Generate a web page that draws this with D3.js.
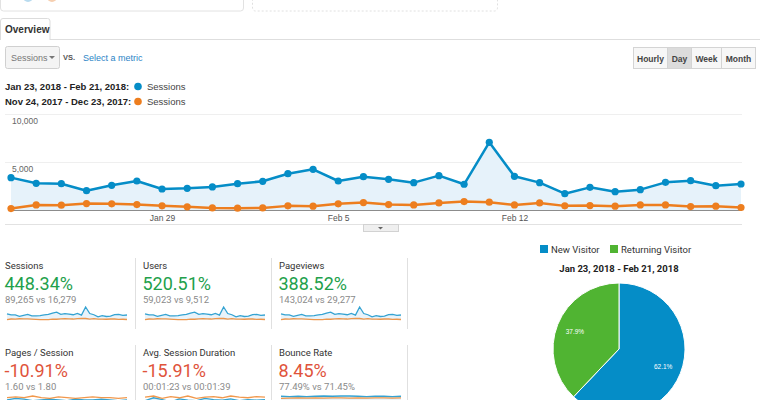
<!DOCTYPE html>
<html>
<head>
<meta charset="utf-8">
<script src="https://cdn.jsdelivr.net/npm/d3@7"></script>
<style>
  html, body { margin: 0; padding: 0; background: #fff; }
  svg { display: block; font-family: "Liberation Sans", Arial, sans-serif; }
  .metric { font-family: Roboto, "Liberation Sans", sans-serif; }
</style>
</head>
<body>
<svg id="chart" width="760" height="400"></svg>
<script>
// sessions per day, current period (Jan 23 - Feb 21, 2018) and previous period
var sessionsCur = [3370, 2780, 2740, 2010, 2570, 3020, 2190, 2260, 2400, 2740,
  2990, 3780, 4240, 3020, 3470, 3200, 2850, 3580, 2680, 7050,
  3510, 2850, 1700, 2360, 1910, 2120, 2880, 3050, 2530, 2710];
var sessionsPrev = [150, 530, 500, 670, 640, 570, 430, 330, 220, 190,
  220, 430, 400, 640, 770, 570, 530, 740, 880, 810,
  530, 740, 430, 460, 400, 530, 530, 360, 400, 260];
var yTicks = [5000, 10000];
var xTickDates = [new Date(2018, 0, 29), new Date(2018, 1, 5), new Date(2018, 1, 12)];

var legendRows = ['Jan 23, 2018 - Feb 21, 2018:', 'Nov 24, 2017 - Dec 23, 2017:'];
var granularity = ['Hourly', 'Day', 'Week', 'Month'];

var metricNames = ['Sessions', 'Users', 'Pageviews', 'Pages / Session', 'Avg. Session Duration', 'Bounce Rate'];
var metricChange = ['448.34%', '520.51%', '388.52%', '-10.91%', '-15.91%', '8.45%'];
var metricCompare = ['89,265 vs 16,279', '59,023 vs 9,512', '143,024 vs 29,277',
  '1.60 vs 1.80', '00:01:23 vs 00:01:39', '77.49% vs 71.45%'];
var metricGood = [true, true, true, false, false, false];

// small sparkline series for the second row of metrics
var pagesCur = [1.5, 1.7, 1.6, 1.4, 1.5, 1.6, 1.5, 1.4, 1.6, 1.5, 1.5, 1.6, 1.5, 1.4, 1.5];
var pagesPrev = [1.8, 1.9, 1.8, 2.0, 1.8, 1.7, 1.9, 1.8, 1.7, 1.8, 1.9, 1.8, 1.8, 1.7, 1.8];
var durCur = [70, 95, 80, 60, 85, 75, 70, 90, 80, 75, 85, 70, 80, 75, 80];
var durPrev = [100, 110, 90, 105, 95, 110, 90, 100, 105, 95, 110, 100, 95, 105, 100];
var bounceCur = [78, 77, 78, 77, 78, 79, 78, 79, 79, 78, 77, 78, 78, 77, 78];
var bouncePrev = [70, 71, 72, 71, 72, 71, 72, 72, 71, 72, 71, 72, 72, 71, 72];

var visitorTypes = ['New Visitor', 'Returning Visitor'];
var visitorShare = [62.1, 37.9];

var BLUE = '#058dc7';
var ORANGE = '#ed7e1f';
var GREEN = '#50b432';

var svg = d3.select('#chart');

// --- cut-off cards at the very top
svg.append('rect').attr('x', 0.5).attr('y', -12).attr('width', 243).attr('height', 23)
    .attr('rx', 3).attr('fill', '#fff').attr('stroke', '#e2e2e2');
svg.append('circle').attr('cx', 28).attr('cy', -3).attr('r', 5).attr('fill', '#b8dbef');
svg.append('circle').attr('cx', 52).attr('cy', -3).attr('r', 5).attr('fill', '#f6cfb0');
svg.append('rect').attr('x', 252.5).attr('y', -12).attr('width', 245).attr('height', 23)
    .attr('rx', 3).attr('fill', '#fff').attr('stroke', '#e0e0e0').attr('stroke-dasharray', '2,2');

// --- tab
svg.append('line').attr('x1', 0).attr('x2', 760).attr('y1', 39.5).attr('y2', 39.5)
    .attr('stroke', '#dedede');
svg.append('path').attr('d', 'M0.5,40 V21 Q0.5,18.5 3,18.5 H47.5 Q50,18.5 50,21 V40')
    .attr('fill', '#fff').attr('stroke', '#dcdcdc');
svg.append('text').attr('x', 5).attr('y', 33).text('Overview')
    .attr('font-size', 10).attr('font-weight', 'bold').attr('fill', '#333');

// --- metric selector
svg.append('rect').attr('x', 5.5).attr('y', 46.5).attr('width', 54).attr('height', 22)
    .attr('rx', 2).attr('fill', '#f4f4f4').attr('stroke', '#d0d0d0');
svg.append('text').attr('x', 11).attr('y', 61).text('Sessions')
    .attr('font-size', 9).attr('fill', '#777');
svg.append('path').attr('d', 'M49,56 h6 l-3,3 z').attr('fill', '#777');
svg.append('text').attr('x', 63).attr('y', 60).text('VS.')
    .attr('font-size', 7.5).attr('font-weight', 'bold').attr('fill', '#555');
svg.append('text').attr('x', 83).attr('y', 61).text('Select a metric')
    .attr('font-size', 9).attr('fill', '#2b84c6');

// --- granularity buttons
var btnX = d3.scaleOrdinal().domain(granularity).range([633, 667, 691, 721]);
var btnW = d3.scaleOrdinal().domain(granularity).range([34, 24, 30, 34]);
var btns = svg.append('g').selectAll('g').data(granularity).join('g')
    .attr('transform', function (d) { return 'translate(' + btnX(d) + ',47)'; });
btns.append('rect').attr('x', 0.5).attr('y', 0.5)
    .attr('width', function (d) { return btnW(d); }).attr('height', 21)
    .attr('fill', function (d) { return d === 'Day' ? '#dcdcdc' : '#f7f7f7'; })
    .attr('stroke', '#d4d4d4');
btns.append('text').attr('x', function (d) { return btnW(d) / 2 + 0.5; }).attr('y', 14.5)
    .attr('text-anchor', 'middle').attr('font-size', 8.5).attr('font-weight', 'bold')
    .attr('fill', '#444').text(function (d) { return d; });

// --- legend
var lg = svg.append('g').selectAll('g').data(legendRows).join('g')
    .attr('transform', function (d, i) { return 'translate(0,' + (90 + i * 15) + ')'; });
lg.append('text').attr('x', 5).attr('y', 0).text(function (d) { return d; })
    .attr('font-size', 9.5).attr('font-weight', 'bold').attr('fill', '#222');
lg.append('circle').attr('cx', 138).attr('cy', -3.5).attr('r', 3.8)
    .attr('fill', function (d, i) { return i === 0 ? BLUE : ORANGE; });
lg.append('text').attr('x', 147).attr('y', 0).text('Sessions')
    .attr('font-size', 9.5).attr('fill', '#444');

// --- main line chart
var days = d3.timeDay.range(new Date(2018, 0, 23), new Date(2018, 1, 22));
var x = d3.scaleTime().domain([days[0], days[days.length - 1]]).range([11, 741]);
var y = d3.scaleLinear().domain([0, 10000]).range([210, 114]);

var main = svg.append('g');
main.selectAll('line.grid').data(yTicks).join('line').attr('class', 'grid')
    .attr('x1', 5).attr('x2', 742)
    .attr('y1', function (d) { return y(d) + 0.5; }).attr('y2', function (d) { return y(d) + 0.5; })
    .attr('stroke', '#efefef');
main.selectAll('text.ylab').data(yTicks).join('text').attr('class', 'ylab')
    .attr('x', 12).attr('y', function (d) { return y(d) + 9.5; })
    .attr('font-size', 8.5).attr('fill', '#666').text(d3.format(','));

var area = d3.area().x(function (d, i) { return x(days[i]); }).y0(y(0))
    .y1(function (d) { return y(d); });
var line = d3.line().x(function (d, i) { return x(days[i]); }).y(function (d) { return y(d); });

main.append('path').datum(sessionsCur).attr('d', area).attr('fill', '#e6f2fa');
main.append('line').attr('x1', 11).attr('x2', 742).attr('y1', 210.5).attr('y2', 210.5)
    .attr('stroke', '#8c8c8c');

[[sessionsPrev, ORANGE], [sessionsCur, BLUE]].forEach(function (s) {
  main.append('path').datum(s[0]).attr('d', line).attr('fill', 'none')
      .attr('stroke', s[1]).attr('stroke-width', 2.5).attr('stroke-linejoin', 'round');
  main.append('g').selectAll('circle').data(s[0]).join('circle')
      .attr('cx', function (d, i) { return x(days[i]); })
      .attr('cy', function (d) { return y(d); })
      .attr('r', 3.6).attr('fill', s[1]);
});

var xAxis = d3.axisBottom(x).tickValues(xTickDates).tickFormat(d3.timeFormat('%b %-d')).tickSize(0);
var xg = main.append('g').attr('transform', 'translate(0,212)').call(xAxis);
xg.select('.domain').remove();
xg.selectAll('text').attr('font-size', 8.5).attr('fill', '#555')
    .attr('font-family', '"Liberation Sans", Arial, sans-serif');

main.append('line').attr('x1', 5).attr('x2', 742).attr('y1', 224.5).attr('y2', 224.5)
    .attr('stroke', '#e2e2e2');
main.append('rect').attr('x', 363.5).attr('y', 224.5).attr('width', 35).attr('height', 7)
    .attr('fill', '#efefef').attr('stroke', '#d2d2d2');
main.append('path').attr('d', 'M378,227 h5 l-2.5,2.5 z').attr('fill', '#666');

// --- metric cards
var colX = [5, 143, 279];
var rowY = [265, 352];
var sparkData = [
  [sessionsCur, sessionsPrev], [sessionsCur, sessionsPrev], [sessionsCur, sessionsPrev],
  [pagesCur, pagesPrev], [durCur, durPrev], [bounceCur, bouncePrev]
];

[135, 271, 407].forEach(function (sx) {
  rowY.forEach(function (ry) {
    svg.append('line').attr('x1', sx + 0.5).attr('x2', sx + 0.5)
        .attr('y1', ry - 7).attr('y2', ry + 64).attr('stroke', '#e0e0e0');
  });
});

metricNames.forEach(function (name, i) {
  var cx = colX[i % 3];
  var cy = rowY[Math.floor(i / 3)];
  var g = svg.append('g').attr('class', 'metric');
  g.append('text').attr('x', cx).attr('y', cy + 3.5).text(name)
      .attr('font-size', 9.5).attr('fill', '#333');
  g.append('text').attr('x', cx - 0.5).attr('y', cy + 24.5).text(metricChange[i])
      .attr('font-size', 18).attr('fill', metricGood[i] ? '#22a04b' : '#e0533b');
  g.append('text').attr('x', cx).attr('y', cy + 37.5).text(metricCompare[i])
      .attr('font-size', 9.5).attr('fill', '#8a8a8a');

  // sparkline
  var cur = sparkData[i][0], prev = sparkData[i][1];
  var sx = d3.scaleLinear().domain([0, cur.length - 1]).range([cx + 2, cx + 122]);
  var all = cur.concat(prev);
  var sy;
  var bottom = cy + 55;
  if (i < 3) {
    sy = d3.scaleLinear().domain([0, d3.max(all)]).range([bottom, bottom - 13]);
  } else {
    bottom = cy + 52;
    sy = d3.scaleLinear().domain([d3.min(all) * 0.7, d3.max(all)]).range([bottom, bottom - 8]);
  }
  var sArea = d3.area().x(function (d, k) { return sx(k); }).y0(bottom).y1(function (d) { return sy(d); });
  var sLine = d3.line().x(function (d, k) { return sx(k); }).y(function (d) { return sy(d); });
  g.append('path').datum(cur).attr('d', sArea).attr('fill', '#e8f3fa');
  var order = i < 3 ? [[prev, ORANGE], [cur, BLUE]] : [[cur, BLUE], [prev, ORANGE]];
  order.forEach(function (s) {
    g.append('path').datum(s[0]).attr('d', sLine).attr('fill', 'none')
        .attr('stroke', s[1]).attr('stroke-width', 1.3).attr('opacity', 0.8);
  });
});

// --- visitor pie
var pieColor = d3.scaleOrdinal().domain(visitorTypes).range([BLUE, GREEN]);
var pl = svg.append('g').attr('class', 'metric').selectAll('g').data(visitorTypes).join('g')
    .attr('transform', function (d, i) { return 'translate(' + (540 + i * 70) + ',245)'; });
pl.append('rect').attr('width', 8).attr('height', 8).attr('fill', function (d) { return pieColor(d); });
pl.append('text').attr('x', 11).attr('y', 8).text(function (d) { return d; })
    .attr('font-size', 9.5).attr('fill', '#333');
svg.append('text').attr('class', 'metric').attr('x', 619).attr('y', 272)
    .attr('text-anchor', 'middle').text('Jan 23, 2018 - Feb 21, 2018')
    .attr('font-size', 9.5).attr('font-weight', 'bold').attr('fill', '#222');

var pie = d3.pie().sort(null).value(function (d) { return d; });
var arcs = pie(visitorShare);
var R = 66;
var arc = d3.arc().innerRadius(0).outerRadius(R);
var labelArc = d3.arc().innerRadius(R * 0.72).outerRadius(R * 0.72);
var pg = svg.append('g').attr('transform', 'translate(619,349)');
pg.selectAll('path').data(arcs).join('path').attr('d', arc)
    .attr('fill', function (d, i) { return pieColor(visitorTypes[i]); })
    .attr('stroke', '#fff').attr('stroke-width', 1);
pg.selectAll('text').data(arcs).join('text')
    .attr('transform', function (d) { return 'translate(' + labelArc.centroid(d) + ')'; })
    .attr('text-anchor', 'middle').attr('dy', '0.35em')
    .attr('font-size', 6.5).attr('fill', '#fff')
    .text(function (d) { return d.value + '%'; });
</script>
</body>
</html>
